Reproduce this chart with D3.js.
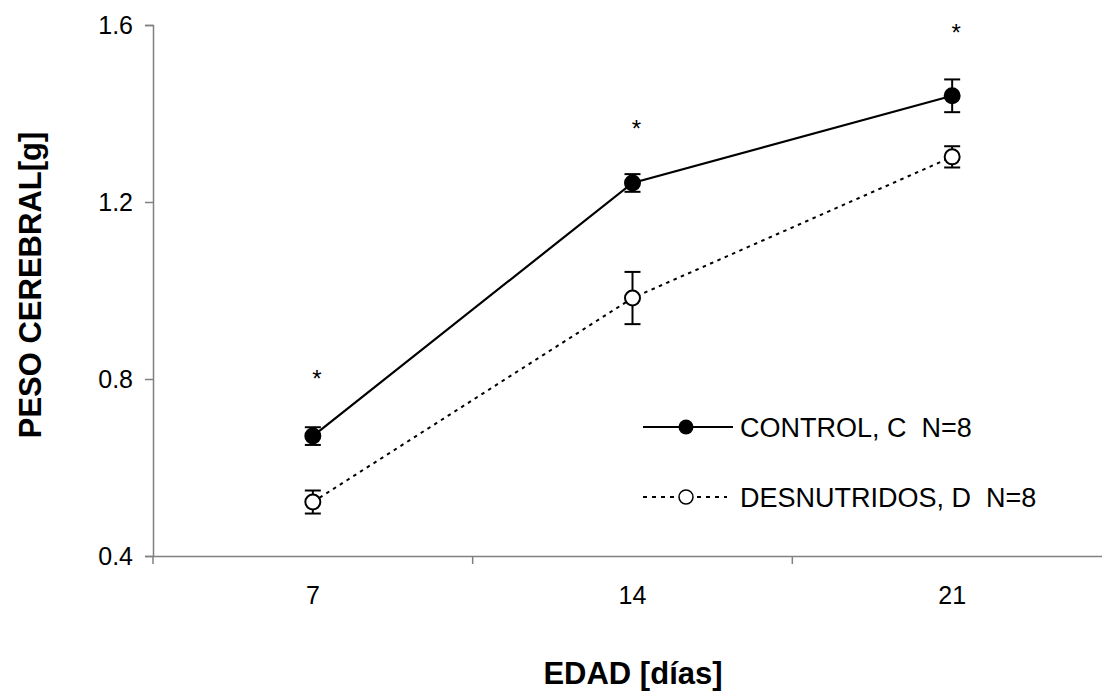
<html>
<head>
<script src="https://d3js.org/d3.v7.min.js"></script>
<style>
  body { margin: 0; background: #fff; }
  svg text { font-family: Arial, "Liberation Sans", sans-serif; fill: #000; white-space: pre; }
</style>
</head>
<body>
<script>
// datos
var dias = ["7", "14", "21"];
var control = [0.671, 1.243, 1.440];
var controlErr = [0.02, 0.02, 0.037];
var desnut = [0.522, 0.983, 1.302];
var desnutErr = [0.026, 0.059, 0.024];
var asteriscos = [0.823, 1.388, 1.604];
var yTicks = [0.4, 0.8, 1.2, 1.6];

var width = 1102, height = 691;
var mLeft = 153, mRight = 1112, mTop = 25, mBottom = 556;

var svg = d3.select("body").append("svg")
  .attr("width", width).attr("height", height);

var x = d3.scaleBand().domain(dias).range([mLeft, mRight]);
var y = d3.scaleLinear().domain([0.4, 1.6]).range([mBottom, mTop]);

// ejes
var yAxis = svg.append("g").attr("transform", "translate(" + mLeft + ",0)")
  .call(d3.axisLeft(y).tickValues(yTicks).tickFormat(d3.format(".1f")).tickSizeOuter(0).tickSize(8));
var xAxis = svg.append("g").attr("transform", "translate(0," + mBottom + ")")
  .call(d3.axisBottom(x).tickSize(0).tickSizeOuter(0));

[yAxis, xAxis].forEach(function(a) {
  a.select(".domain").attr("stroke", "#808080").attr("stroke-width", 1.5);
  a.selectAll("line").attr("stroke", "#808080").attr("stroke-width", 1.5);
  a.selectAll("text").style("font-size", "25px").attr("fill", "#000");
});
yAxis.selectAll("text").attr("x", -20).attr("dy", "0.35em");
xAxis.selectAll("text").attr("y", 39).attr("dy", "0.35em");

// marcas entre categorias en el eje x
svg.append("g").selectAll("line")
  .data([mLeft].concat(dias.map(function(d) { return x(d) + x.bandwidth(); })))
  .enter().append("line")
  .attr("x1", function(d) { return d; })
  .attr("x2", function(d) { return d; })
  .attr("y1", mBottom).attr("y2", mBottom + 8)
  .attr("stroke", "#808080").attr("stroke-width", 1.5);

function cx(i) { return x(dias[i]) + x.bandwidth() / 2; }

var line = d3.line()
  .x(function(d, i) { return cx(i); })
  .y(function(d) { return y(d); });

function serie(vals, errs, dash, fill, r) {
  var g = svg.append("g");
  g.append("path").datum(vals)
    .attr("d", line)
    .attr("fill", "none")
    .attr("stroke", "#000")
    .attr("stroke-width", dash ? 2 : 2.2)
    .attr("stroke-dasharray", dash);
  var eb = g.selectAll(".eb").data(vals).enter().append("g");
  eb.append("line")
    .attr("x1", function(d, i) { return cx(i); })
    .attr("x2", function(d, i) { return cx(i); })
    .attr("y1", function(d, i) { return y(d + errs[i]); })
    .attr("y2", function(d, i) { return y(d - errs[i]); })
    .attr("stroke", "#000").attr("stroke-width", 2);
  [1, -1].forEach(function(s) {
    eb.append("line")
      .attr("x1", function(d, i) { return cx(i) - 8; })
      .attr("x2", function(d, i) { return cx(i) + 8; })
      .attr("y1", function(d, i) { return y(d + s * errs[i]); })
      .attr("y2", function(d, i) { return y(d + s * errs[i]); })
      .attr("stroke", "#000").attr("stroke-width", 2);
  });
  g.selectAll("circle").data(vals).enter().append("circle")
    .attr("cx", function(d, i) { return cx(i); })
    .attr("cy", function(d) { return y(d); })
    .attr("r", r)
    .attr("fill", fill)
    .attr("stroke", "#000").attr("stroke-width", 2);
}

serie(desnut, desnutErr, "3.5,4.5", "#fff", 7.5);
serie(control, controlErr, null, "#000", 7.5);

// asteriscos
svg.append("g").selectAll("text").data(asteriscos).enter().append("text")
  .attr("x", function(d, i) { return cx(i) + 4; })
  .attr("y", function(d) { return y(d); })
  .attr("dy", "0.75em")
  .attr("text-anchor", "middle")
  .style("font-size", "24px")
  .text("*");

// leyenda
var leg = svg.append("g");
leg.append("line").attr("x1", 643).attr("x2", 733).attr("y1", 427).attr("y2", 427)
  .attr("stroke", "#000").attr("stroke-width", 2);
leg.append("circle").attr("cx", 686).attr("cy", 427).attr("r", 7.5).attr("fill", "#000");
leg.append("text").attr("x", 740).attr("y", 427).attr("dy", "0.36em")
  .style("font-size", "27px").text("CONTROL, C  N=8");
leg.append("line").attr("x1", 643).attr("x2", 727).attr("y1", 497).attr("y2", 497)
  .attr("stroke", "#000").attr("stroke-width", 2).attr("stroke-dasharray", "4,5");
leg.append("circle").attr("cx", 686).attr("cy", 497).attr("r", 7)
  .attr("fill", "#fff").attr("stroke", "#000").attr("stroke-width", 1.5);
leg.append("text").attr("x", 740).attr("y", 497).attr("dy", "0.36em")
  .style("font-size", "27px").text("DESNUTRIDOS, D  N=8");

// titulos
svg.append("text")
  .attr("transform", "translate(41,285) rotate(-90)")
  .attr("text-anchor", "middle")
  .style("font-size", "31px").style("font-weight", "bold")
  .text("PESO CEREBRAL[g]");
svg.append("text")
  .attr("x", 633).attr("y", 684)
  .attr("text-anchor", "middle")
  .style("font-size", "31px").style("font-weight", "bold")
  .text("EDAD [días]");
</script>
</body>
</html>
